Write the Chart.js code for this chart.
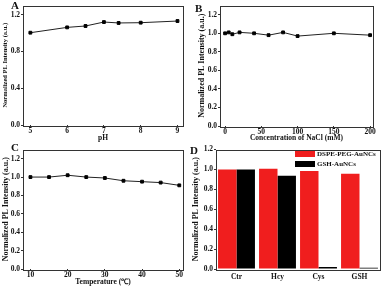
<!DOCTYPE html>
<html><head><meta charset="utf-8">
<script src="https://cdn.jsdelivr.net/npm/chart.js@4/dist/chart.umd.min.js"></script>
<style>
html,body{margin:0;padding:0;background:#fff;}
body{width:381px;height:288px;position:relative;overflow:hidden;font-family:"Liberation Serif",serif;}
.pane{position:absolute;}
.lab{position:absolute;font:bold 11px "Liberation Serif",serif;color:#111;}
.leg{position:absolute;font:bold 7px "Liberation Serif",serif;color:#111;white-space:nowrap;line-height:8px;}
.leg span{display:inline-block;width:20px;height:6px;margin-right:2px;vertical-align:-1px;}
</style></head><body>
<div class="pane" style="left:0;top:0;width:190px;height:144px"><canvas id="cA"></canvas></div>
<div class="pane" style="left:196px;top:0;width:185px;height:144px"><canvas id="cB"></canvas></div>
<div class="pane" style="left:0;top:144px;width:190px;height:144px"><canvas id="cC"></canvas></div>
<div class="pane" style="left:190px;top:144px;width:191px;height:144px"><canvas id="cD"></canvas></div>
<div class="lab" style="left:11px;top:-1px">A</div>
<div class="lab" style="left:195px;top:2px">B</div>
<div class="lab" style="left:11px;top:141px">C</div>
<div class="lab" style="left:190px;top:144px">D</div>
<div class="leg" style="left:295px;top:150px"><span style="background:rgb(240,30,30)"></span>DSPE-PEG-AuNCs</div>
<div class="leg" style="left:295px;top:160px"><span style="background:#000"></span>GSH-AuNCs</div>
<script>
// ---- data ----
const phX = [5, 6, 6.5, 7, 7.4, 8, 9];
const phY = [1.004, 1.062, 1.077, 1.12, 1.11, 1.113, 1.131];
const phTicks = [5, 6, 7, 8, 9];

const naclX = [0, 5, 10, 20, 40, 60, 80, 100, 150, 200];
const naclY = [1.0, 1.01, 0.99, 1.01, 1.0, 0.98, 1.01, 0.97, 1.0, 0.98];
const naclTicks = [0, 50, 100, 150, 200];

const tempX = [10, 15, 20, 25, 30, 35, 40, 45, 50];
const tempY = [1.0, 1.0, 1.02, 1.0, 0.99, 0.96, 0.95, 0.94, 0.91];
const tempTicks = [10, 20, 30, 40, 50];

const thiolCats = ['Ctr', 'Hcy', 'Cys', 'GSH'];
const dspeVals = [1.0, 1.007, 0.983, 0.957];
const gshVals = [1.0, 0.937, 0.02, 0.013];

const yTicksA = [0, 0.4, 0.8, 1.2];
const yTicks02 = [0, 0.2, 0.4, 0.6, 0.8, 1.0, 1.2];

const YTITLE = 'Normalized PL Intensity (a.u.)';
const TXT = '#111';
const tickFont = {family: 'Liberation Serif', size: 7.5, weight: 'bold'};
const titleFont = {family: 'Liberation Serif', size: 7.5, weight: 'bold'};

const frame = {
  id: 'frame',
  afterDraw(chart) {
    const a = chart.chartArea, c = chart.ctx;
    c.save();
    c.strokeStyle = '#333';
    c.lineWidth = 1;
    c.strokeRect(Math.round(a.left) + 0.5, Math.round(a.top) + 0.5,
                 Math.round(a.right - a.left), Math.round(a.bottom - a.top));
    c.restore();
  }
};

function lineCfg(xs, ys, xTicks, xmin, xmax, yTicks, ymax, xTitle, dims) {
  return {
    type: 'line',
    data: {datasets: [{
      data: xs.map((x, i) => ({x: x, y: ys[i]})),
      borderColor: '#222', borderWidth: 1,
      pointStyle: 'rect', pointRadius: 2, pointBackgroundColor: '#000', pointBorderColor: '#000',
      tension: 0
    }]},
    options: baseOptions({
      type: 'linear', min: xmin, max: xmax,
      afterBuildTicks: s => { s.ticks = xTicks.map(v => ({value: v})); },
      ticks: {font: tickFont, color: TXT, padding: 0, maxRotation: 0},
      grid: {drawOnChartArea: false, tickLength: 2, color: '#333'},
      border: {display: false},
      title: xTitle ? {display: true, text: xTitle, font: titleFont, color: TXT, padding: {top: 0, bottom: 1}} : {display: false},
      afterFit: s => { s.height = dims.xh; }
    }, yTicks, ymax, dims)
  };
}

function baseOptions(xScale, yTicks, ymax, dims) {
  return {
    responsive: false, animation: false, maintainAspectRatio: false,
    layout: {padding: {top: dims.pt, right: dims.pr, left: 0, bottom: 0}},
    plugins: {legend: {display: false}, tooltip: {enabled: false}},
    scales: {
      x: xScale,
      y: {
        type: 'linear', min: 0, max: ymax,
        afterBuildTicks: s => { s.ticks = yTicks.map(v => ({value: v})); },
        ticks: {font: tickFont, color: TXT, padding: 1, callback: v => Number(v).toFixed(1)},
        grid: {drawOnChartArea: false, tickLength: 2, color: '#333'},
        border: {display: false},
        title: {display: true, text: YTITLE, font: {family: 'Liberation Serif', size: dims.yt, weight: 'bold'}, color: TXT, padding: {top: 1, bottom: 0}},
        afterFit: s => { s.width = dims.yw; }
      }
    }
  };
}

function make(id, w, h, cfg) {
  const cv = document.getElementById(id);
  cv.width = w; cv.height = h;
  cv.style.width = w + 'px'; cv.style.height = h + 'px';
  cfg.plugins = [frame];
  return new Chart(cv, cfg);
}

make('cA', 190, 144, lineCfg(phX, phY, phTicks, 4.8, 9.15, yTicksA, 1.3, 'pH',
  {yw: 23, xh: 19, pt: 5, pr: 7, yt: 6.5}));
make('cB', 185, 144, lineCfg(naclX, naclY, naclTicks, -7, 204, yTicks02, 1.3, 'Concentration of NaCl (mM)',
  {yw: 24, xh: 18, pt: 5, pr: 8, yt: 8}));
make('cC', 190, 144, lineCfg(tempX, tempY, tempTicks, 8, 51, yTicks02, 1.3, 'Temperature (\u2103)',
  {yw: 23, xh: 19, pt: 4, pr: 7, yt: 8}));

const dDims = {yw: 26, xh: 19, pt: 5, pr: 1, yt: 8};
make('cD', 191, 144, {
  type: 'bar',
  data: {
    labels: thiolCats,
    datasets: [
      {label: 'DSPE-PEG-AuNCs', data: dspeVals, backgroundColor: 'rgb(240,30,30)', borderWidth: 0},
      {label: 'GSH-AuNCs', data: gshVals, backgroundColor: '#000', borderWidth: 0}
    ]
  },
  options: Object.assign(baseOptions({
    type: 'category', offset: true,
    ticks: {font: tickFont, color: TXT, padding: 4, maxRotation: 0},
    grid: {drawOnChartArea: false, drawTicks: false, offset: true},
    border: {display: false},
    afterFit: s => { s.height = dDims.xh; }
  }, yTicks02, 1.2, dDims), {datasets: {bar: {categoryPercentage: 0.9, barPercentage: 1.0}}})
});
</script>
</body></html>
